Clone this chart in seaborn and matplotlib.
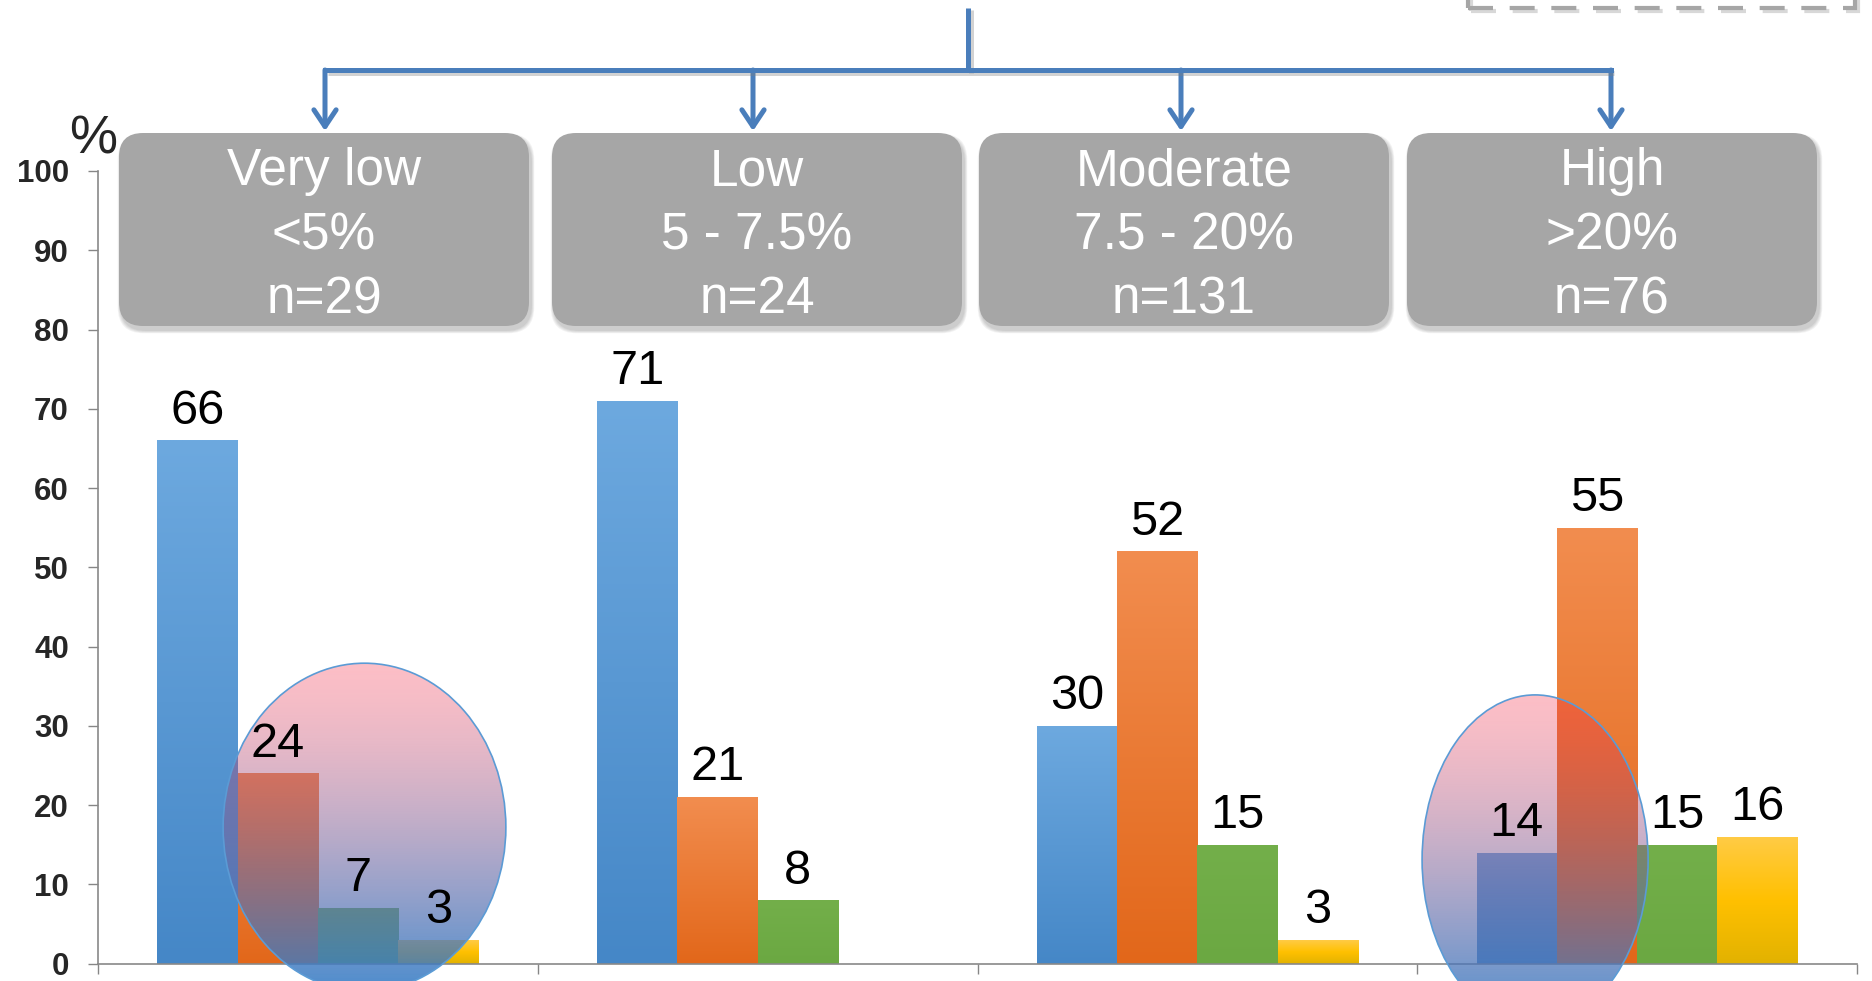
import numpy as np
import pandas as pd
import matplotlib.pyplot as plt
import seaborn as sns
from matplotlib.patches import Ellipse, FancyBboxPatch, Rectangle, FancyArrowPatch
from matplotlib.transforms import IdentityTransform
from matplotlib.lines import Line2D
from matplotlib.colors import to_rgb

# Data
risk_groups = ['Very low', 'Low', 'Moderate', 'High']
risk_ranges = ['<5%', '5 - 7.5%', '7.5 - 20%', '>20%']
group_sizes = [29, 24, 131, 76]
series_names = ['Series 1', 'Series 2', 'Series 3', 'Series 4']
series_1 = [66, 71, 30, 14]
series_2 = [24, 21, 52, 55]
series_3 = [7, 8, 15, 15]
series_4 = [3, 0, 3, 16]
y_ticks = list(range(0, 101, 10))

W, H = 1872, 981

# Build long table for seaborn
rows = []
for name, vals in zip(series_names, [series_1, series_2, series_3, series_4]):
    for grp, v in zip(risk_groups, vals):
        rows.append({'group': grp, 'series': name, 'value': v})
df = pd.DataFrame(rows)

base_colors = ['#5B9BD5', '#ED7D31', '#70AD47', '#FFC000']
# gradient stops (top -> bottom) for each series
grad_stops = [
    ['#6DA9DF', '#4587C7'],
    ['#F28D4F', '#E2671A'],
    ['#73AF4A', '#6BA842'],
    ['#FFCB45', '#FFC000', '#E2B200'],
]


def make_gradient(stops, n=256):
    cols = np.array([to_rgb(c) for c in stops])
    pos = np.linspace(0, 1, len(stops))
    t = np.linspace(0, 1, n)
    arr = np.stack([np.interp(t, pos, cols[:, k]) for k in range(3)], axis=1)
    return arr[:, None, :]


sns.set_style('white')
plt.rcParams['font.family'] = ['Liberation Sans', 'DejaVu Sans']

fig = plt.figure(figsize=(W / 100, H / 100), dpi=100)
ax = fig.add_axes([98 / W, 1 - 963.6 / H, (1857 - 98) / W, (963.6 - 171) / H])

sns.barplot(data=df, x='group', y='value', hue='series', order=risk_groups,
            hue_order=series_names, palette=base_colors, saturation=1,
            width=0.73, errorbar=None, legend=False, ax=ax, zorder=1)

# Gradient fill on each bar + value labels
for cont, stops in zip(ax.containers, grad_stops):
    grad = make_gradient(stops)
    for bar in cont:
        x0, w, h = bar.get_x(), bar.get_width(), bar.get_height()
        if h <= 0:
            continue
        ax.imshow(grad, extent=(x0, x0 + w, 0, h), aspect='auto', zorder=2,
                  interpolation='bilinear')
        ax.annotate(f'{int(h)}', (x0 + w / 2, h), xytext=(0, 12),
                    textcoords='offset points', ha='center', va='baseline',
                    fontsize=35, color='black', zorder=6)

# Highlight ellipses (pink -> blue, semi transparent)
n = 256
t = np.linspace(0, 1, n)
tc = t ** 1.5
alpha = 0.3 + 0.6 * tc
top_look = np.array([252, 190, 198]) / 255
bot_look = np.array([76, 140, 205]) / 255
look = top_look[None, :] * (1 - tc[:, None]) + bot_look[None, :] * tc[:, None]
rgb = np.clip((look - (1 - alpha[:, None])) / alpha[:, None], 0, 1)
ell_grad = np.concatenate([rgb, alpha[:, None]], axis=1)[:, None, :]

ellipse_specs = [(0.106, 17.2, 0.643, 41.4), (2.768, 13.1, 0.514, 41.6)]
for cx, cy, ew, eh in ellipse_specs:
    ell = Ellipse((cx, cy), ew, eh, facecolor='none', edgecolor='#5B9BD5',
                  lw=1.2, zorder=4, clip_on=False)
    ax.add_patch(ell)
    im = ax.imshow(ell_grad, extent=(cx - ew / 2, cx + ew / 2, cy - eh / 2, cy + eh / 2),
                   aspect='auto', zorder=3, interpolation='bilinear')
    im.set_clip_box(fig.bbox)
    im.set_clip_path(ell)

ax.set_xlim(-0.5, 3.5)
ax.set_ylim(0, 100)
ax.set_xlabel('')
ax.set_ylabel('')
ax.set_yticks(y_ticks)
ax.set_yticklabels([str(v) for v in y_ticks], fontsize=22.5, fontweight='bold')
ax.set_xticks([-0.5, 0.5, 1.5, 2.5, 3.5])
ax.set_xticklabels([])
ax.tick_params(axis='both', direction='out', length=7, width=1, color='#868686')
ax.tick_params(axis='y', pad=14, left=True)
ax.tick_params(axis='x', bottom=True)
for side in ['top', 'right']:
    ax.spines[side].set_visible(False)
for side in ['left', 'bottom']:
    ax.spines[side].set_color('#898989')
    ax.spines[side].set_linewidth(1.2)

# "%" unit label
fig.text(93 / W, 1 - 153 / H, '%', fontsize=39, ha='center', va='baseline')

pix = IdentityTransform()

# Grey category boxes
box_lefts = [119, 552, 979, 1407]
box_w, box_top, box_bot = 410, 133, 326
for left, grp, rng, n_grp in zip(box_lefts, risk_groups, risk_ranges, group_sizes):
    for k in range(4):
        g = 2 + k * 1.5
        fig.add_artist(FancyBboxPatch((left + 2 - g / 2, H - box_bot - 4 - g / 2),
                                      box_w + g, box_bot - box_top + g,
                                      boxstyle='round,pad=0,rounding_size=26',
                                      facecolor='black', edgecolor='none',
                                      alpha=0.05, transform=pix))
    fig.add_artist(FancyBboxPatch((left, H - box_bot), box_w, box_bot - box_top,
                                  boxstyle='round,pad=0,rounding_size=24',
                                  facecolor='#A6A6A6', edgecolor='none',
                                  transform=pix))
    cx = left + box_w / 2
    for yy, txt in zip([185, 249, 313], [grp, rng, f'n={n_grp}']):
        fig.text(cx / W, 1 - yy / H, txt, fontsize=37, color='white',
                 ha='center', va='baseline')

# Tree connector arrows
arrow_col = '#4A7EBB'
arrow_x = [325, 753, 1181, 1611]
shadow = dict(color='#7F7F7F', alpha=0.35, lw=3.6, transform=pix, solid_capstyle='butt')
fig.add_artist(Line2D([971, 971], [H - 10, H - 73], **shadow))
fig.add_artist(Line2D([arrow_x[0] + 3, arrow_x[-1] + 3], [H - 73, H - 73], **shadow))
fig.add_artist(Line2D([968, 968], [H - 8, H - 70], color=arrow_col, lw=3.6,
                      transform=pix, solid_capstyle='butt'))
fig.add_artist(Line2D([arrow_x[0], arrow_x[-1]], [H - 70, H - 70], color=arrow_col,
                      lw=3.6, transform=pix, solid_capstyle='projecting'))
for xa in arrow_x:
    fig.add_artist(FancyArrowPatch((xa, H - 70), (xa, H - 131),
                                   arrowstyle='->,head_length=12,head_width=8',
                                   color=arrow_col, lw=3.6, transform=pix,
                                   shrinkA=0, shrinkB=0))

# Dashed box fragment at top right
fig.add_artist(Rectangle((1471, H - 11), 387, 60, facecolor='none', edgecolor='#BFBFBF',
                         lw=3, linestyle=(0, (6, 4)), alpha=0.6, transform=pix))
fig.add_artist(Rectangle((1468, H - 8), 387, 60, facecolor='none', edgecolor='#A6A6A6',
                         lw=3, linestyle=(0, (6, 4)), transform=pix))

fig.savefig('out.png', dpi=100)
